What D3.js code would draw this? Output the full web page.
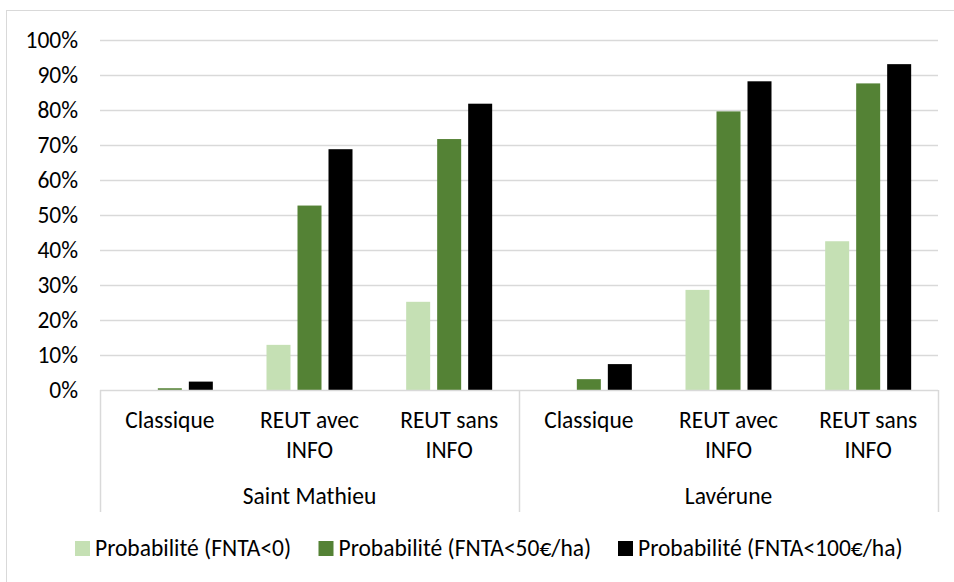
<!DOCTYPE html>
<html>
<head>
<meta charset="utf-8">
<script src="https://cdn.jsdelivr.net/npm/d3@7"></script>
<style>
  html, body { margin: 0; padding: 0; background: #fff; }
  svg text { font-family: Carlito, Calibri, Lato, sans-serif; fill: #000; }
</style>
</head>
<body>
<svg id="chart" width="954" height="582"></svg>
<script>
const groups = ["Saint Mathieu", "Lavérune"];
const categories = ["Classique", "REUT avec INFO", "REUT sans INFO"];
const categoryLines = [["Classique"], ["REUT avec", "INFO"], ["REUT sans", "INFO"]];
const seriesNames = ["Probabilité (FNTA<0)", "Probabilité (FNTA<50€/ha)", "Probabilité (FNTA<100€/ha)"];
const seriesColors = ["#C5E0B4", "#548235", "#000000"];
// values in %, order: Saint Mathieu (Classique, REUT avec, REUT sans), Lavérune (same)
const fntaLt0 = [0, 12.9, 25.2, 0, 28.6, 42.5];
const fntaLt50 = [0.5, 52.7, 71.7, 3.1, 79.6, 87.6];
const fntaLt100 = [2.4, 68.8, 81.8, 7.4, 88.2, 93.1];
const yTicks = [0, 10, 20, 30, 40, 50, 60, 70, 80, 90, 100];

const series = [fntaLt0, fntaLt50, fntaLt100];
const svg = d3.select("#chart");
const FS = 23.5;

// outer frame
svg.append("rect").attr("x", 6.5).attr("y", 10.5).attr("width", 960).attr("height", 600)
  .attr("fill", "none").attr("stroke", "#d9d9d9").attr("stroke-width", 1);

const pLeft = 100, pRight = 938, pTop = 40, pBottom = 390;
const slots = [];
groups.forEach((g, gi) => categories.forEach((c, ci) => slots.push(gi + "|" + ci)));

const x0 = d3.scaleBand().domain(slots).range([pLeft, pRight]).padding(0);
const xg = d3.scaleBand().domain(groups).range([pLeft, pRight]).padding(0);
const y = d3.scaleLinear().domain([0, 100]).range([pBottom, pTop]);

// gridlines
svg.append("g").selectAll("line").data(yTicks.filter(t => t > 0)).join("line")
  .attr("x1", pLeft).attr("x2", pRight)
  .attr("y1", d => Math.round(y(d)) + 0.5).attr("y2", d => Math.round(y(d)) + 0.5)
  .attr("stroke", "#d9d9d9").attr("stroke-width", 1.5);

// y axis labels
const yAxis = d3.axisLeft(y).tickValues(yTicks).tickFormat(d => d + "%").tickSize(0).tickPadding(0);
const ya = svg.append("g").attr("transform", `translate(78,0)`).call(yAxis);
ya.select(".domain").remove();
ya.attr("font-family", null).attr("font-size", null);
ya.selectAll("text").style("font-size", FS + "px").attr("fill", "#000");

// bars
const x1 = d3.scaleBand().domain(d3.range(series.length)).range([-43, 43]).paddingInner(7 / 31);
const barG = svg.append("g");
series.forEach((vals, si) => {
  barG.append("g").selectAll("rect").data(vals).join("rect")
    .attr("x", (d, i) => x0(slots[i]) + x0.bandwidth() / 2 + x1(si))
    .attr("width", x1.bandwidth())
    .attr("y", d => y(d))
    .attr("height", d => y(0) - y(d))
    .attr("fill", seriesColors[si]);
});

// x axis base line
svg.append("line").attr("x1", pLeft).attr("x2", pRight).attr("y1", pBottom + 0.5).attr("y2", pBottom + 0.5)
  .attr("stroke", "#d9d9d9").attr("stroke-width", 1.5);

// group separators
const seps = [pLeft, xg("Lavérune"), pRight];
svg.append("g").selectAll("line").data(seps).join("line")
  .attr("x1", d => Math.round(d) + 0.5).attr("x2", d => Math.round(d) + 0.5)
  .attr("y1", pBottom).attr("y2", 512)
  .attr("stroke", "#d9d9d9").attr("stroke-width", 1.5);

// category labels
const catG = svg.append("g");
slots.forEach((s, i) => {
  const ci = +s.split("|")[1];
  const t = catG.append("text").attr("text-anchor", "middle")
    .attr("x", x0(s) + x0.bandwidth() / 2).style("font-size", FS + "px");
  categoryLines[ci].forEach((ln, li) => {
    t.append("tspan").attr("x", x0(s) + x0.bandwidth() / 2).attr("y", 428 + li * 29.5).text(ln);
  });
});

// group labels
svg.append("g").selectAll("text").data(groups).join("text")
  .attr("x", d => xg(d) + xg.bandwidth() / 2).attr("y", 504)
  .attr("text-anchor", "middle").style("font-size", FS + "px").text(d => d);

// legend
const legX = [75, 318.5, 618];
const lg = svg.append("g");
seriesNames.forEach((n, i) => {
  lg.append("rect").attr("x", legX[i]).attr("y", 541).attr("width", 15).attr("height", 15).attr("fill", seriesColors[i]);
  lg.append("text").attr("x", legX[i] + 20).attr("y", 556).style("font-size", FS + "px").text(n);
});
</script>
</body>
</html>
